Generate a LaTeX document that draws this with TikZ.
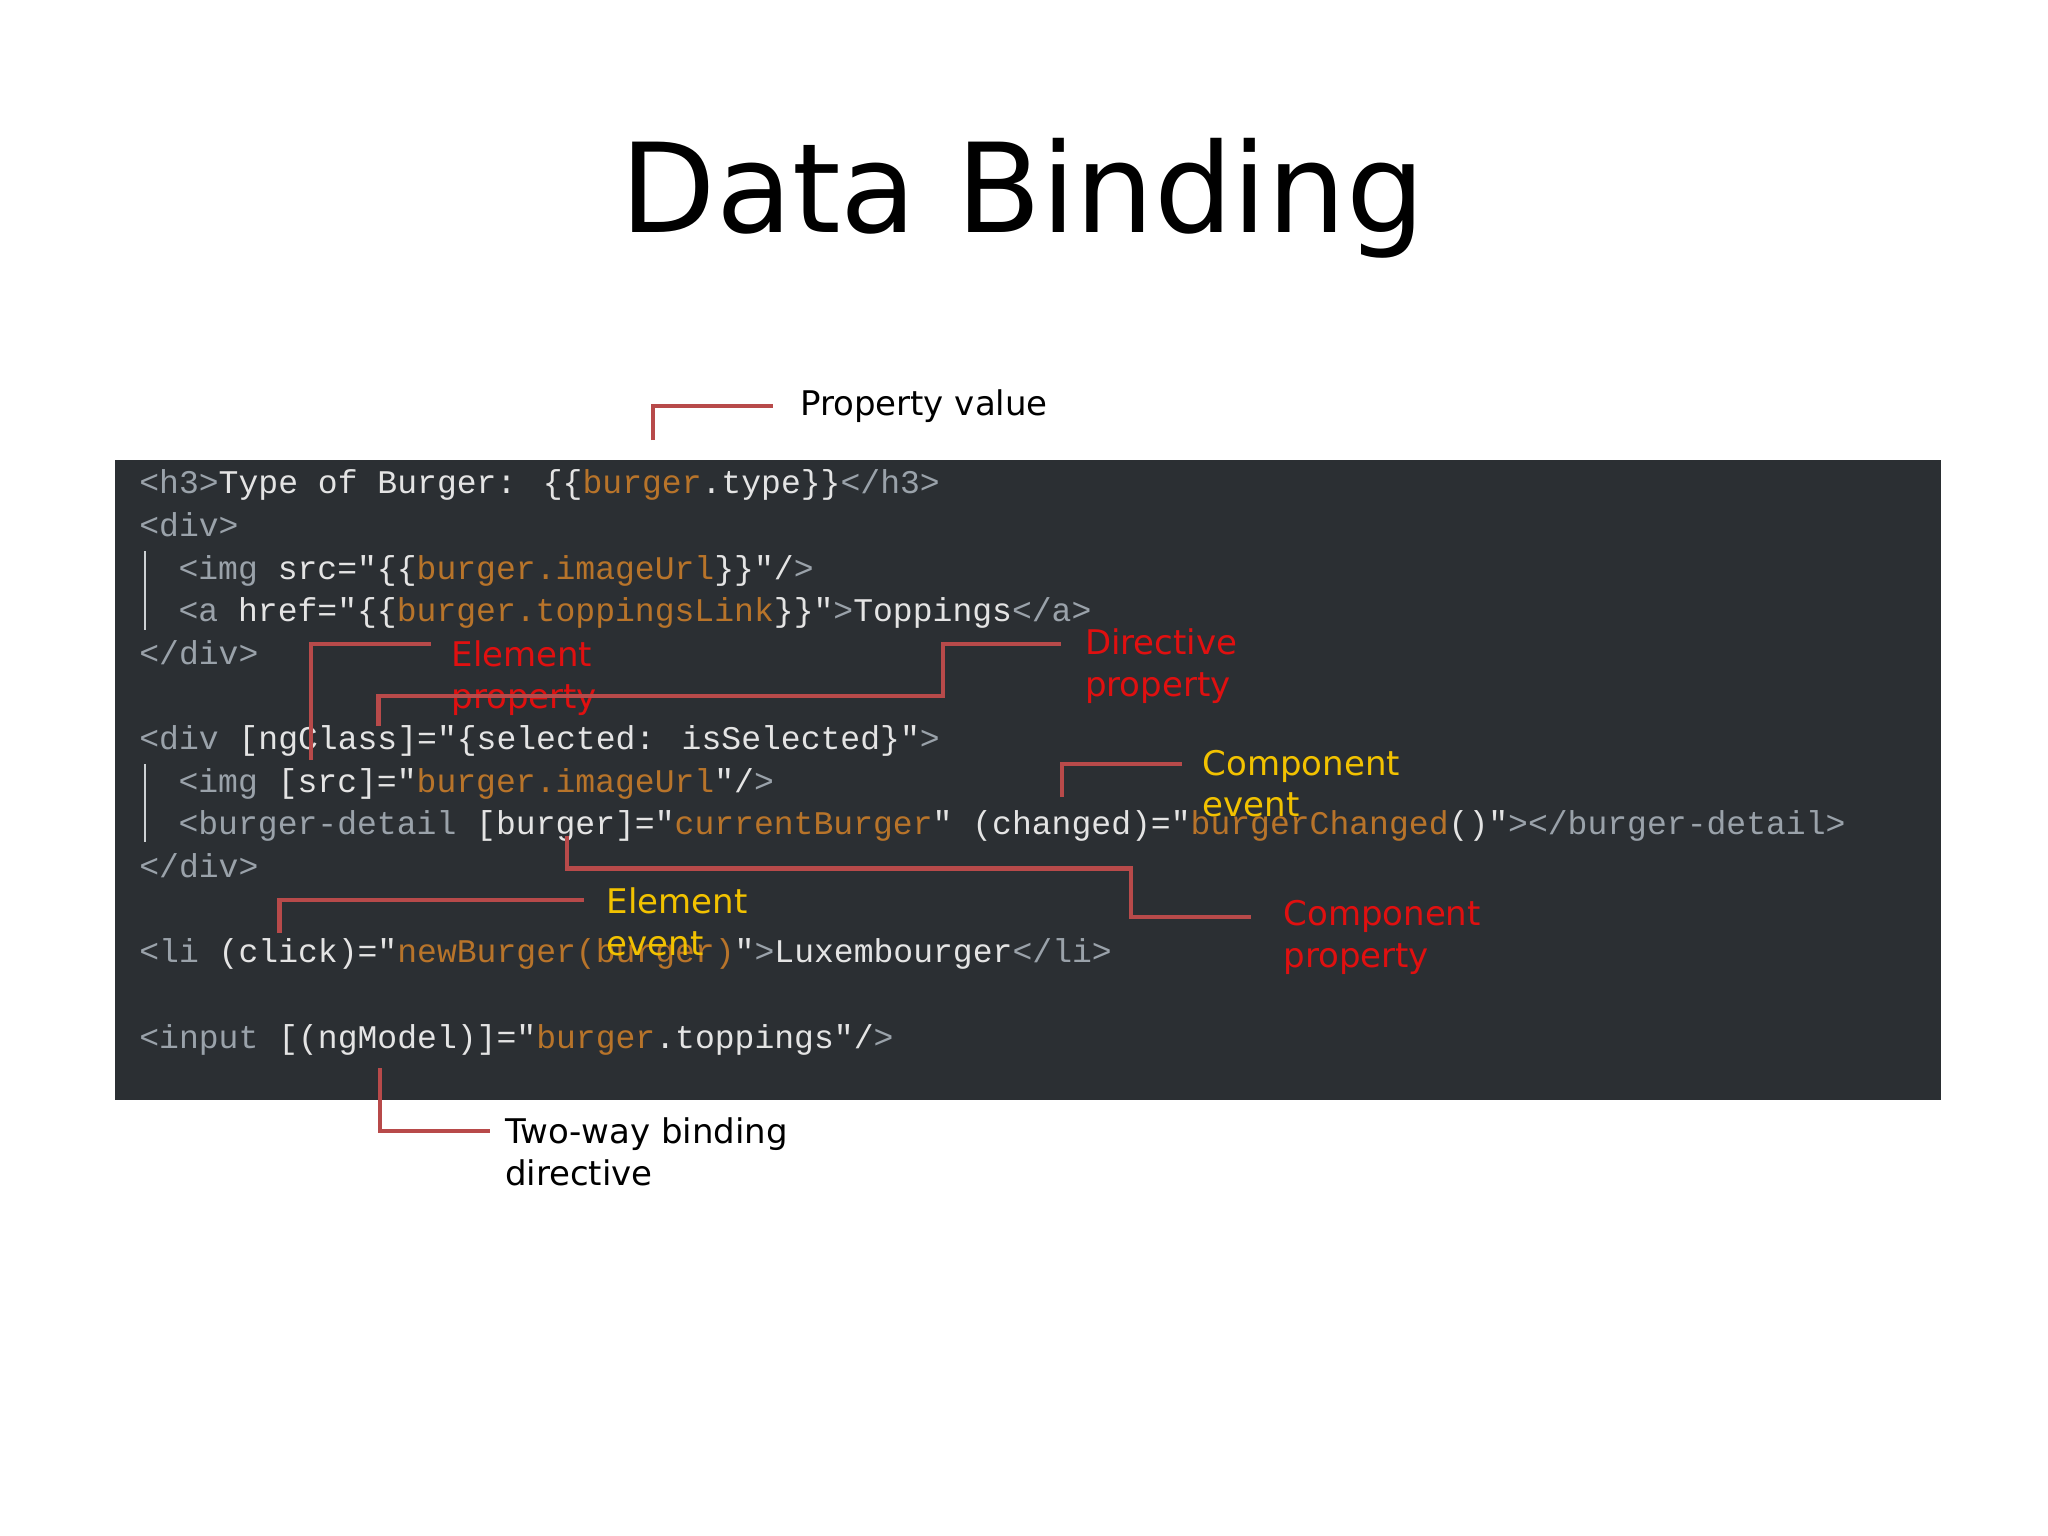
\documentclass[tikz,border=0pt]{standalone}
\usepackage{fontspec}
\setmainfont{DejaVu Sans}
\newfontfamily\code{Liberation Mono}
\definecolor{bg}{HTML}{2B2F33}
\definecolor{tagc}{HTML}{9AA2AA}
\definecolor{txt}{HTML}{E4E4E4}
\definecolor{org}{HTML}{B8742A}
\definecolor{lred}{HTML}{B84A4A}
\definecolor{ared}{HTML}{E01010}
\definecolor{ayel}{HTML}{F2C200}
\newcommand{\tg}[1]{\textcolor{tagc}{#1}}
\newcommand{\og}[1]{\textcolor{org}{#1}}
\begin{document}
\begin{tikzpicture}[x=0.01cm,y=-0.01cm,
  codeline/.style={anchor=base west,inner sep=0,text=txt,font=\code\fontsize{7.2pt}{8pt}\selectfont},
  lbl/.style={anchor=west,inner sep=0,align=left,font=\fontsize{7.4pt}{9.1pt}\selectfont},
  conn/.style={draw=lred,line width=1pt}]
\useasboundingbox (0,0) rectangle (1568,1176);
\fill[white] (0,0) rectangle (1568,1176);
\node (title) at (783,152) {\fontsize{27pt}{32pt}\selectfont Data Binding};
\fill[bg] (88,352) rectangle (1486,842);
\draw[tagc!50,line width=0.6pt] (111,422)--(111,482) (111,585)--(111,645);
\node[codeline] (l1) at (106,378) {\tg{<h3>}Type of Burger: \{\{\og{burger}.type\}\}\tg{</h3>}};
\node[codeline] (l2) at (106,411) {\tg{<div>}};
\node[codeline] (l3) at (136,444) {\tg{<img} src="\{\{\og{burger.imageUrl}\}\}"/\tg{>}};
\node[codeline] (l4) at (136,476) {\tg{<a} href="\{\{\og{burger.toppingsLink}\}\}"\tg{>}Toppings\tg{</a>}};
\node[codeline] (l5) at (106,509) {\tg{</div>}};
\node[codeline] (l6) at (106,574) {\tg{<div} [ngClass]="\{selected: isSelected\}"\tg{>}};
\node[codeline] (l7) at (136,607) {\tg{<img} [src]="\og{burger.imageUrl}"/\tg{>}};
\node[codeline] (l8) at (136,639) {\tg{<burger-detail} [burger]="\og{currentBurger}" (changed)="\og{burgerChanged}()"\tg{></burger-detail>}};
\node[codeline] (l9) at (106,672) {\tg{</div>}};
\node[codeline] (l10) at (106,737) {\tg{<li} (click)="\og{newBurger(burger)}"\tg{>}Luxembourger\tg{</li>}};
\node[codeline] (l11) at (106,803) {\tg{<input} [(ngModel)]="\og{burger}.toppings"/\tg{>}};
% annotations
\node[lbl] (pv) at (612,311) {Property value};
\coordinate (pv0) at (500,337);
\draw[conn] (pv0)--(500,311)--(592,311);
\node[lbl,text=ared] (ep) at (345,519) {Element\\property};
\coordinate (ep0) at (238,582);
\draw[conn] (ep0)--(238,493)--(330,493);
\node[lbl,text=ared] (dp) at (830,510) {Directive\\property};
\coordinate (dp0) at (290,556);
\draw[conn] (dp0)--(290,533)--(722,533)--(722,493)--(812,493);
\node[lbl,text=ayel] (ce) at (920,600) {Component\\event};
\coordinate (ce0) at (813,610);
\draw[conn] (ce0)--(813,585)--(905,585);
\node[lbl,text=ared] (cp) at (982,718) {Component\\property};
\coordinate (cp0) at (434,640);
\draw[conn] (cp0)--(434,665)--(866,665)--(866,702)--(958,702);
\node[lbl,text=ayel] (ee) at (464,706) {Element\\event};
\coordinate (ee0) at (214,714);
\draw[conn] (ee0)--(214,689)--(447,689);
\node[lbl] (tw) at (386,882) {Two-way binding\\directive};
\coordinate (tw0) at (291,818);
\draw[conn] (tw0)--(291,866)--(375,866);
\end{tikzpicture}
\end{document}
